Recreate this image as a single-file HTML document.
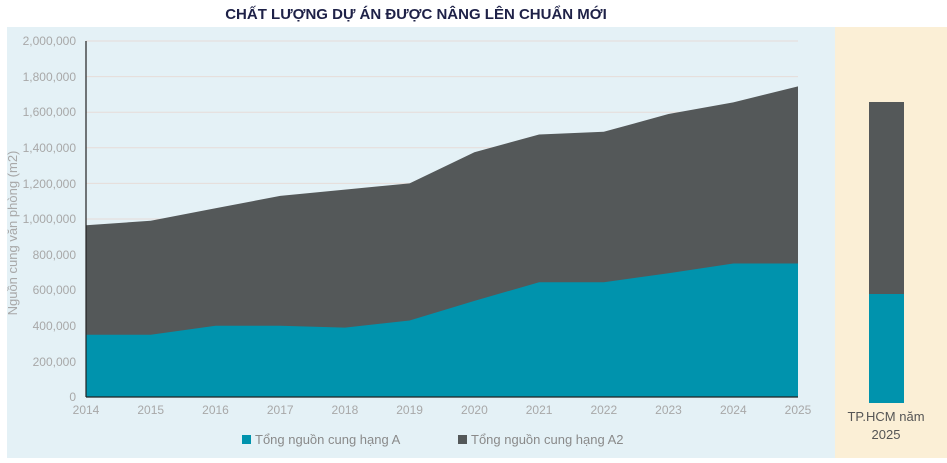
<!DOCTYPE html>
<html><head><meta charset="utf-8"><style>
body{margin:0;width:947px;height:458px;background:#fff;overflow:hidden;font-family:"Liberation Sans",sans-serif}
</style></head><body>
<svg width="947" height="458" xmlns="http://www.w3.org/2000/svg" font-family="Liberation Sans, sans-serif">
<rect x="7" y="27" width="828" height="431" fill="#e4f1f6"/>
<rect x="835" y="27" width="112" height="431" fill="#fbefd6"/>
<text x="416" y="19" text-anchor="middle" font-size="15" font-weight="bold" fill="#1e2147">CHẤT LƯỢNG DỰ ÁN ĐƯỢC NÂNG LÊN CHUẨN MỚI</text>
<g stroke="#e6dcd8" stroke-width="1">
<line x1="86" x2="798" y1="41" y2="41"/><line x1="86" x2="798" y1="76.6" y2="76.6"/><line x1="86" x2="798" y1="112.2" y2="112.2"/><line x1="86" x2="798" y1="147.8" y2="147.8"/><line x1="86" x2="798" y1="183.4" y2="183.4"/><line x1="86" x2="798" y1="219" y2="219"/><line x1="86" x2="798" y1="254.6" y2="254.6"/><line x1="86" x2="798" y1="290.2" y2="290.2"/><line x1="86" x2="798" y1="325.8" y2="325.8"/><line x1="86" x2="798" y1="361.4" y2="361.4"/>
</g>
<polygon fill="#545859" points="86,225.2 150.7,220.8 215.5,208.3 280.2,195.9 344.9,189.6 409.6,183.4 474.4,152.3 539.1,134.5 603.8,131.8 668.5,114 733.3,102.4 798,86.4 798,397 86,397"/>
<polygon fill="#0093ad" points="86,334.7 150.7,334.7 215.5,325.8 280.2,325.8 344.9,327.6 409.6,320.5 474.4,300.9 539.1,282.2 603.8,282.2 668.5,273.3 733.3,263.5 798,263.5 798,397 86,397"/>
<line x1="86" y1="41" x2="86" y2="397" stroke="#222" stroke-width="1.2"/>
<line x1="86" y1="397" x2="798" y2="397" stroke="#222" stroke-width="1.2"/>
<g font-size="12" fill="#a8a8a8" text-anchor="end">
<text x="76" y="45">2,000,000</text><text x="76" y="81">1,800,000</text><text x="76" y="116">1,600,000</text><text x="76" y="152">1,400,000</text><text x="76" y="188">1,200,000</text><text x="76" y="223">1,000,000</text><text x="76" y="259">800,000</text><text x="76" y="294">600,000</text><text x="76" y="330">400,000</text><text x="76" y="366">200,000</text><text x="76" y="401">0</text>
</g>
<g font-size="12" fill="#a8a8a8" text-anchor="middle">
<text x="86" y="414">2014</text><text x="150.7" y="414">2015</text><text x="215.5" y="414">2016</text><text x="280.2" y="414">2017</text><text x="344.9" y="414">2018</text><text x="409.6" y="414">2019</text><text x="474.4" y="414">2020</text><text x="539.1" y="414">2021</text><text x="603.8" y="414">2022</text><text x="668.5" y="414">2023</text><text x="733.3" y="414">2024</text><text x="798" y="414">2025</text>
</g>
<text transform="translate(17,233) rotate(-90)" text-anchor="middle" font-size="13" fill="#a8a8a8">Nguồn cung văn phòng (m2)</text>
<rect x="242" y="435" width="9" height="9" fill="#0093ad"/>
<text x="255" y="444" font-size="13" fill="#8a8a8a">Tổng nguồn cung hạng A</text>
<rect x="458" y="435" width="9" height="9" fill="#545859"/>
<text x="471" y="444" font-size="13" fill="#8a8a8a">Tổng nguồn cung hạng A2</text>
<rect x="869" y="102" width="35" height="192" fill="#545859"/>
<rect x="869" y="294" width="35" height="109" fill="#0093ad"/>
<text x="886" y="421" text-anchor="middle" font-size="13" fill="#555">TP.HCM năm</text>
<text x="886" y="439" text-anchor="middle" font-size="13" fill="#555">2025</text>
</svg>
</body></html>
